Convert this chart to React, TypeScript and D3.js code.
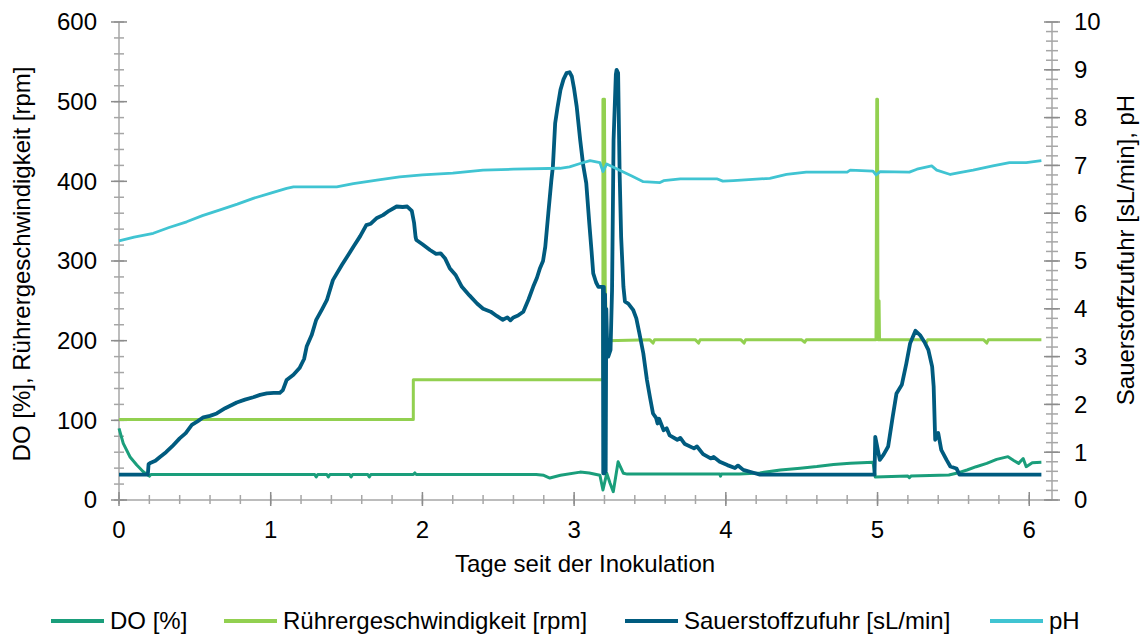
import React from "react";
import * as d3 from "d3";

// Werte: [Tage, Wert]
const doSeries: [number, number][] = [
  [0, 90], [0.028, 71], [0.073, 54], [0.117, 44], [0.16, 35.5], [0.2, 30], [0.21, 32],
  [1.29, 32], [1.3, 29], [1.31, 32], [1.37, 32], [1.38, 29], [1.39, 32], [1.52, 32], [1.53, 29],
  [1.54, 32], [1.64, 32], [1.65, 29], [1.66, 32], [1.94, 32], [1.95, 34], [1.96, 32],
  [2.75, 32], [2.8, 31], [2.84, 27.6], [2.91, 31], [3.04, 35], [3.1, 34], [3.17, 31],
  [3.19, 12.5], [3.215, 33.5], [3.237, 21], [3.258, 10.4], [3.29, 48], [3.325, 33.5], [3.35, 32.5],
  [3.96, 32.5], [3.965, 30], [3.97, 32.5], [4.09, 32.5], [4.225, 34], [4.36, 37.7], [4.49, 40],
  [4.6, 42], [4.71, 44.5], [4.82, 46], [4.97, 47.3], [4.985, 29], [5.2, 30], [5.21, 28], [5.22, 30],
  [5.47, 31.4], [5.52, 33.5], [5.59, 37.7], [5.65, 41.8], [5.72, 46], [5.785, 51], [5.86, 54.4],
  [5.895, 50], [5.93, 46], [5.96, 52], [5.98, 41.8], [6.02, 46.8], [6.08, 47.3],
];

const stirrerSeries: [number, number][] = [
  [0, 101], [1.94, 101], [1.94, 151], [3.19, 151], [3.19, 503], [3.2, 503], [3.205, 268],
  [3.215, 200], [3.5, 201], [3.52, 197], [3.53, 201], [3.8, 201], [3.82, 197], [3.83, 201],
  [4.1, 201], [4.12, 197], [4.13, 201], [4.5, 201], [4.52, 198], [4.53, 201], [4.99, 201],
  [4.995, 503], [5.0, 503], [5.003, 201], [5.01, 250], [5.013, 201], [5.3, 201], [5.32, 197],
  [5.33, 201], [5.7, 201], [5.72, 197], [5.73, 201], [6.08, 201],
];

const oxygenSeries: [number, number][] = [
  [0, 0.53], [0.19, 0.53], [0.195, 0.75], [0.21, 0.78], [0.24, 0.82], [0.27, 0.9], [0.31, 1.0],
  [0.35, 1.12], [0.4, 1.29], [0.44, 1.4], [0.48, 1.57], [0.52, 1.65], [0.556, 1.73], [0.6, 1.76],
  [0.644, 1.81], [0.7, 1.92], [0.776, 2.04], [0.83, 2.1], [0.885, 2.15], [0.93, 2.2], [0.974, 2.23],
  [1.02, 2.24], [1.06, 2.24], [1.08, 2.3], [1.105, 2.51], [1.15, 2.62], [1.19, 2.76], [1.22, 2.95],
  [1.237, 3.21], [1.27, 3.45], [1.3, 3.77], [1.34, 4.0], [1.37, 4.18], [1.41, 4.6], [1.47, 4.92],
  [1.51, 5.12], [1.545, 5.3], [1.59, 5.52], [1.63, 5.75], [1.66, 5.78], [1.7, 5.9], [1.74, 5.96],
  [1.78, 6.05], [1.83, 6.14], [1.87, 6.13], [1.9, 6.14], [1.93, 6.05], [1.945, 5.8], [1.955, 5.5],
  [1.96, 5.44], [2.0, 5.35], [2.05, 5.23], [2.09, 5.15], [2.12, 5.16], [2.15, 5.05], [2.18, 4.85],
  [2.22, 4.7], [2.26, 4.46], [2.31, 4.28], [2.36, 4.11], [2.4, 4.0], [2.45, 3.94], [2.49, 3.85],
  [2.53, 3.77], [2.56, 3.82], [2.58, 3.76], [2.6, 3.82], [2.63, 3.86], [2.665, 3.94], [2.7, 4.2],
  [2.73, 4.46], [2.755, 4.65], [2.775, 4.85], [2.795, 5.0], [2.81, 5.3], [2.83, 6.0], [2.85, 6.69],
  [2.86, 6.97], [2.875, 7.88], [2.89, 8.2], [2.91, 8.58], [2.93, 8.8], [2.95, 8.93], [2.97, 8.95],
  [2.985, 8.86], [3.0, 8.6], [3.017, 8.23], [3.04, 7.53], [3.06, 7.0], [3.08, 6.63], [3.1, 5.79],
  [3.115, 5.2], [3.126, 4.74], [3.145, 4.55], [3.16, 4.46], [3.19, 4.46], [3.192, 0.56],
  [3.196, 4.46], [3.2, 0.56], [3.204, 4.3], [3.208, 0.6], [3.212, 4.0], [3.218, 3.2], [3.225, 3.0],
  [3.24, 3.14], [3.25, 4.39], [3.26, 7.53], [3.275, 8.9], [3.28, 9.0], [3.29, 8.93], [3.3, 6.83],
  [3.31, 5.5], [3.325, 4.46], [3.335, 4.15], [3.357, 4.11], [3.39, 3.97], [3.41, 3.8], [3.43, 3.49],
  [3.456, 3.07], [3.48, 2.51], [3.5, 2.15], [3.52, 1.81], [3.54, 1.72], [3.55, 1.6], [3.56, 1.7],
  [3.59, 1.46], [3.61, 1.5], [3.63, 1.35], [3.68, 1.26], [3.7, 1.3], [3.73, 1.17], [3.79, 1.08],
  [3.81, 1.12], [3.85, 0.96], [3.9, 0.87], [3.92, 0.9], [3.96, 0.8], [4.01, 0.73], [4.06, 0.67],
  [4.08, 0.72], [4.115, 0.63], [4.17, 0.58], [4.225, 0.53], [4.98, 0.53], [4.985, 1.32],
  [5.015, 0.84], [5.04, 0.95], [5.07, 1.12], [5.1, 1.74], [5.125, 2.23], [5.16, 2.41], [5.19, 2.86],
  [5.215, 3.28], [5.25, 3.54], [5.28, 3.45], [5.31, 3.3], [5.335, 3.14], [5.36, 2.79], [5.37, 2.37],
  [5.38, 1.26], [5.4, 1.4], [5.42, 1.05], [5.455, 0.84], [5.48, 0.7], [5.52, 0.66], [5.54, 0.53],
  [6.08, 0.53],
];

const phSeries: [number, number][] = [
  [0, 5.42], [0.1, 5.5], [0.226, 5.58], [0.33, 5.7], [0.446, 5.82], [0.55, 5.95], [0.666, 6.07],
  [0.78, 6.19], [0.885, 6.31], [1.0, 6.42], [1.105, 6.52], [1.15, 6.55], [1.435, 6.55], [1.545, 6.62],
  [1.7, 6.69], [1.85, 6.76], [2.0, 6.8], [2.2, 6.84], [2.4, 6.9], [2.6, 6.92], [2.907, 6.94],
  [2.97, 6.97], [3.04, 7.04], [3.105, 7.1], [3.17, 7.06], [3.19, 6.87], [3.215, 7.03], [3.3, 6.9],
  [3.38, 6.78], [3.456, 6.66], [3.566, 6.64], [3.59, 6.68], [3.7, 6.72], [3.94, 6.72], [3.98, 6.67],
  [4.05, 6.68], [4.29, 6.73], [4.4, 6.81], [4.53, 6.86], [4.8, 6.86], [4.82, 6.9], [4.97, 6.88],
  [4.99, 6.8], [5.017, 6.87], [5.21, 6.86], [5.26, 6.92], [5.357, 6.99], [5.39, 6.9], [5.48, 6.81],
  [5.54, 6.85], [5.63, 6.9], [5.76, 6.99], [5.87, 7.06], [5.98, 7.06], [6.08, 7.1],
];

const xTicks = [0, 1, 2, 3, 4, 5, 6];
const leftTicks = [0, 100, 200, 300, 400, 500, 600];
const rightTicks = [0, 1, 2, 3, 4, 5, 6, 7, 8, 9, 10];

const legendItems = [
  { label: "DO [%]", color: "#1A9E7B" },
  { label: "Rührergeschwindigkeit [rpm]", color: "#92D050" },
  { label: "Sauerstoffzufuhr [sL/min]", color: "#005B7F" },
  { label: "pH", color: "#40C4D2" },
];

const font = "'Liberation Sans', Arial, sans-serif";

export default function App() {
  const left = 119;
  const right = 1052;
  const top = 22;
  const bottom = 500;
  const fs = 24;

  const x = d3.scaleLinear().domain([0, 6.15]).range([left, right]);
  const yL = d3.scaleLinear().domain([0, 600]).range([bottom, top]);
  const yR = d3.scaleLinear().domain([0, 10]).range([bottom, top]);

  const lineL = d3.line<[number, number]>().x((d) => x(d[0])).y((d) => yL(d[1]));
  const lineR = d3.line<[number, number]>().x((d) => x(d[0])).y((d) => yR(d[1]));

  const xMinor = d3.range(0, 6.01, 0.2);
  const leftMinor = d3.range(0, 601, 20);
  const rightMinor = d3.range(0, 10.01, 0.2);

  const axisCol = "#A6A6A6";
  const majorCol = "#8C8C8C";

  const legendX = [51, 224, 625, 990];

  return (
    <svg width={1144} height={634} style={{ position: "absolute", left: 0, top: 0, background: "#fff" }} fontFamily={font}>
      {/* Achsen */}
      <line x1={left} x2={right} y1={bottom} y2={bottom} stroke={axisCol} strokeWidth={1.5} />
      <line x1={left} x2={left} y1={top} y2={bottom} stroke={axisCol} strokeWidth={1.5} />
      <line x1={right} x2={right} y1={top} y2={bottom} stroke={axisCol} strokeWidth={1.5} />

      {xMinor.map((t) => (
        <line key={"xm" + t} x1={x(t)} x2={x(t)} y1={bottom - 5} y2={bottom + 4} stroke={axisCol} strokeWidth={1.5} />
      ))}
      {xTicks.map((t) => (
        <g key={"x" + t}>
          <line x1={x(t)} x2={x(t)} y1={bottom - 8} y2={bottom + 6} stroke={majorCol} strokeWidth={1.5} />
          <text x={x(t)} y={538} textAnchor="middle" fontSize={fs} fill="#000">{t}</text>
        </g>
      ))}

      {leftMinor.map((t) => (
        <line key={"lm" + t} x1={left - 5} x2={left + 5} y1={yL(t)} y2={yL(t)} stroke={axisCol} strokeWidth={1.5} />
      ))}
      {leftTicks.map((t) => (
        <g key={"l" + t}>
          <line x1={left - 8} x2={left + 8} y1={yL(t)} y2={yL(t)} stroke={majorCol} strokeWidth={1.5} />
          <text x={97} y={yL(t)} dy="0.35em" textAnchor="end" fontSize={fs} fill="#000">{t}</text>
        </g>
      ))}

      {rightMinor.map((t) => (
        <line key={"rm" + t} x1={right - 6} x2={right + 6} y1={yR(t)} y2={yR(t)} stroke={axisCol} strokeWidth={1.5} />
      ))}
      {rightTicks.map((t) => (
        <g key={"r" + t}>
          <line x1={right - 8} x2={right + 8} y1={yR(t)} y2={yR(t)} stroke={majorCol} strokeWidth={1.5} />
          <text x={1074} y={yR(t)} dy="0.35em" textAnchor="start" fontSize={fs} fill="#000">{t}</text>
        </g>
      ))}

      {/* Achsentitel */}
      <text x={585} y={572} textAnchor="middle" fontSize={fs} fill="#000">Tage seit der Inokulation</text>
      <text transform="translate(30,264) rotate(-90)" textAnchor="middle" fontSize={fs} fill="#000">
        DO [%], Rührergeschwindigkeit [rpm]
      </text>
      <text transform="translate(1134,250) rotate(-90)" textAnchor="middle" fontSize={fs} fill="#000">
        Sauerstoffzufuhr [sL/min], pH
      </text>

      {/* Datenreihen */}
      <path d={lineL(doSeries) ?? ""} fill="none" stroke={legendItems[0].color} strokeWidth={3} strokeLinejoin="round" />
      <path d={lineL(stirrerSeries) ?? ""} fill="none" stroke={legendItems[1].color} strokeWidth={3} strokeLinejoin="round" />
      <path d={lineR(oxygenSeries) ?? ""} fill="none" stroke={legendItems[2].color} strokeWidth={3.8} strokeLinejoin="round" />
      <path d={lineR(phSeries) ?? ""} fill="none" stroke={legendItems[3].color} strokeWidth={2.8} strokeLinejoin="round" />

      {/* Legende */}
      {legendItems.map((item, i) => (
        <g key={item.label}>
          <line x1={legendX[i]} x2={legendX[i] + 53} y1={621} y2={621} stroke={item.color} strokeWidth={4} />
          <text x={legendX[i] + 59} y={621} dy="0.35em" fontSize={fs} fill="#000">{item.label}</text>
        </g>
      ))}
    </svg>
  );
}
